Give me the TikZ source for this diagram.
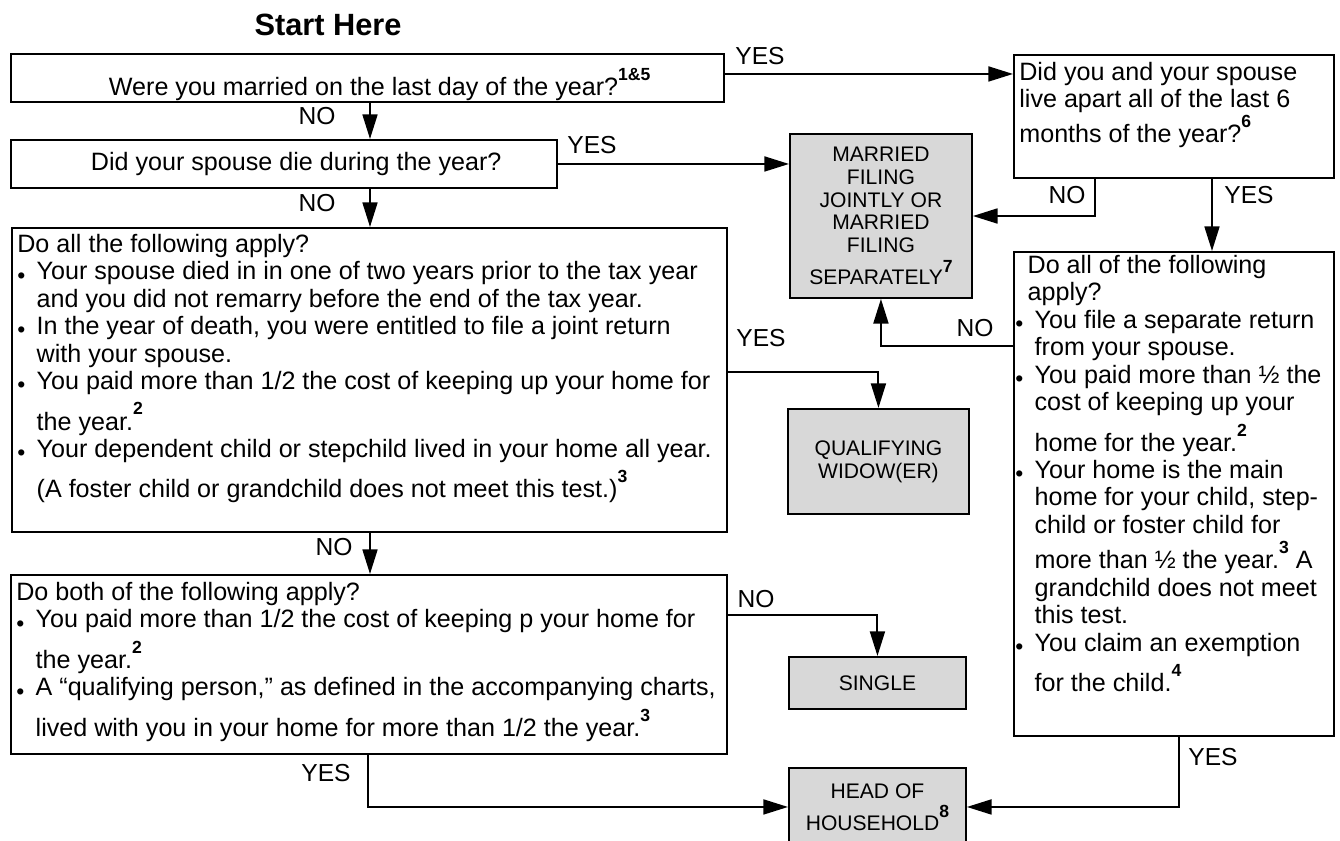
\documentclass[tikz,border=0pt]{standalone}
\usepackage{fontspec}
\setmainfont{Liberation Sans}
\usetikzlibrary{arrows.meta}
\definecolor{boxgray}{RGB}{216,216,216}
\newcommand\fnote[1]{\raisebox{0.6em}{\fontsize{10}{10}\selectfont\bfseries #1}}
\newcommand\bul{\makebox[11pt][l]{\raisebox{-1.8pt}{\fontsize{13}{13}\selectfont\textbullet}}}
\newcommand\ind{\hspace*{11pt}}
\begin{document}
\begin{tikzpicture}[x=0.02cm, y=-0.02cm,
    box/.style={draw, line width=1.1pt, inner sep=0pt, anchor=north west, align=center,
      font=\fontsize{14.3}{15.6}\selectfont},
    result/.style={box, fill=boxgray, font=\fontsize{12}{13}\selectfont},
    txt/.style={anchor=north west, inner sep=0pt, align=left, font=\fontsize{14.3}{15.6}\selectfont},
    lbl/.style={inner sep=0pt, font=\fontsize{14}{15.6}\selectfont},
    arr/.style={line width=1.1pt, -{Triangle[length=14pt,width=8.5pt]}},
    ln/.style={line width=1.1pt}]
  \useasboundingbox (0,0) rectangle (1340,840);

  \node[font=\fontsize{17.5}{20}\selectfont\bfseries] (title) at (328,25){Start Here};

  \node[box, minimum width=14.26cm, minimum height=0.96cm] (married) at (10,53)
    {\hspace*{14pt}\rule{0pt}{23pt}Were you married on the last day of the year?\fnote{1\&5}};
  \node[box, minimum width=10.92cm, minimum height=0.96cm] (died) at (10,139)
    {\hspace*{14pt}Did your spouse die during the year?};

  \node[box, minimum width=14.30cm, minimum height=6.08cm] (widowq) at (11,227){};
    \node[txt] (widowqtxt) at (17,234){Do all the following apply?\\
      \bul Your spouse died in in one of two years prior to the tax year\\
      \ind and you did not remarry before the end of the tax year.\\
      \bul In the year of death, you were entitled to file a joint return\\
      \ind with your spouse.\\
      \bul You paid more than 1/2 the cost of keeping up your home for\\[3.5pt]
      \ind the year.\fnote{2}\\
      \bul Your dependent child or stepchild lived in your home all year.\\[3.5pt]
      \ind (A foster child or grandchild does not meet this test.)\fnote{3}};

  \node[box, minimum width=14.32cm, minimum height=3.58cm] (hohq) at (10,574){};
    \node[txt] (hohqtxt) at (16,582){Do both of the following apply?\\
      \bul You paid more than 1/2 the cost of keeping p your home for\\[3.5pt]
      \ind the year.\fnote{2}\\
      \bul A “qualifying person,” as defined in the accompanying charts,\\[3.5pt]
      \ind lived with you in your home for more than 1/2 the year.\fnote{3}};

  \node[box, minimum width=6.40cm, minimum height=2.46cm] (apart) at (1013,54){};
    \node[txt] (aparttxt) at (1019,62){Did you and your spouse\\
      live apart all of the last 6\\
      months of the year?\fnote{6}};

  \node[box, minimum width=6.40cm, minimum height=9.68cm] (separate) at (1013,251){};
    \node[txt] (separatetxt) at (1015,255){\hspace*{7pt}Do all of the following\\
      \hspace*{7pt}apply?\\
      \bul You file a separate return\\
      \ind from your spouse.\\
      \bul You paid more than ½ the\\
      \ind cost of keeping up your\\[3.5pt]
      \ind home for the year.\fnote{2}\\
      \bul Your home is the main\\
      \ind home for your child, step-\\
      \ind child or foster child for\\[3.5pt]
      \ind more than ½ the year.\fnote{3} A\\
      \ind grandchild does not meet\\
      \ind this test.\\
      \bul You claim an exemption\\[3.5pt]
      \ind for the child.\fnote{4}};

  \node[result, minimum width=3.64cm, minimum height=3.28cm] (mfj) at (789,133)
    {MARRIED\\FILING\\JOINTLY OR\\MARRIED\\FILING\\[3pt]SEPARATELY\fnote{7}};
  \node[result, minimum width=3.62cm, minimum height=2.10cm] (widow) at (787,408)
    {QUALIFYING\\WIDOW(ER)};
  \node[result, minimum width=3.54cm, minimum height=1.04cm] (single) at (788,656)
    {SINGLE};
  \node[result, minimum width=3.54cm, minimum height=1.56cm] (hoh) at (788,767)
    {HEAD OF\\[3pt]HOUSEHOLD\fnote{8}};

  \coordinate (nocol) at (370,0);
  \coordinate (ayes) at ([yshift=0.08cm]married.east);
  \coordinate (dno) at (1095,216);
  \coordinate (dyes) at (1212,0);
  \coordinate (eno) at (878,346);
  \coordinate (cyes) at (877,372);
  \coordinate (fno) at (876,615);
  \coordinate (fyes) at (368,804);
  \coordinate (eyes) at (1179,804);

  \draw[arr] (married.south -| nocol) -- (died.north -| nocol);
    \node[lbl] (no1) at (317,116){NO};
  \draw[arr] (died.south -| nocol) -- (widowq.north -| nocol);
    \node[lbl] (no2) at (317,203){NO};
  \draw[arr] (widowq.south -| nocol) -- (hohq.north -| nocol);
    \node[lbl] (no3) at (334,547){NO};

  \draw[arr] (ayes) -- (apart.west |- ayes);
    \node[lbl] (yes1) at (760,56){YES};
  \draw[arr] (died.east) -- (mfj.west |- died.east);
    \node[lbl] (yes2) at (592,145){YES};
  \draw[arr] (widowq.east |- cyes) -| (widow.north);
    \node[lbl] (yes3) at (761,338){YES};
  \draw[arr] (hohq.east |- fno) -| (single.north);
    \node[lbl] (no4) at (756,599){NO};
  \draw[arr] (hohq.south -| fyes) |- (hoh.west);
    \node[lbl] (yes4) at (326,773){YES};

  \draw[arr] (apart.south -| dno) |- (mfj.east |- dno);
    \node[lbl] (no5) at (1067,195){NO};
  \draw[arr] (apart.south -| dyes) -- (separate.north -| dyes);
    \node[lbl] (yes5) at (1249,195){YES};
  \draw[arr] (separate.west |- eno) -| (mfj.south);
    \node[lbl] (no6) at (975,328){NO};
  \draw[arr] (separate.south -| eyes) |- (hoh.east);
    \node[lbl] (yes6) at (1213,757){YES};

\end{tikzpicture}
\end{document}
